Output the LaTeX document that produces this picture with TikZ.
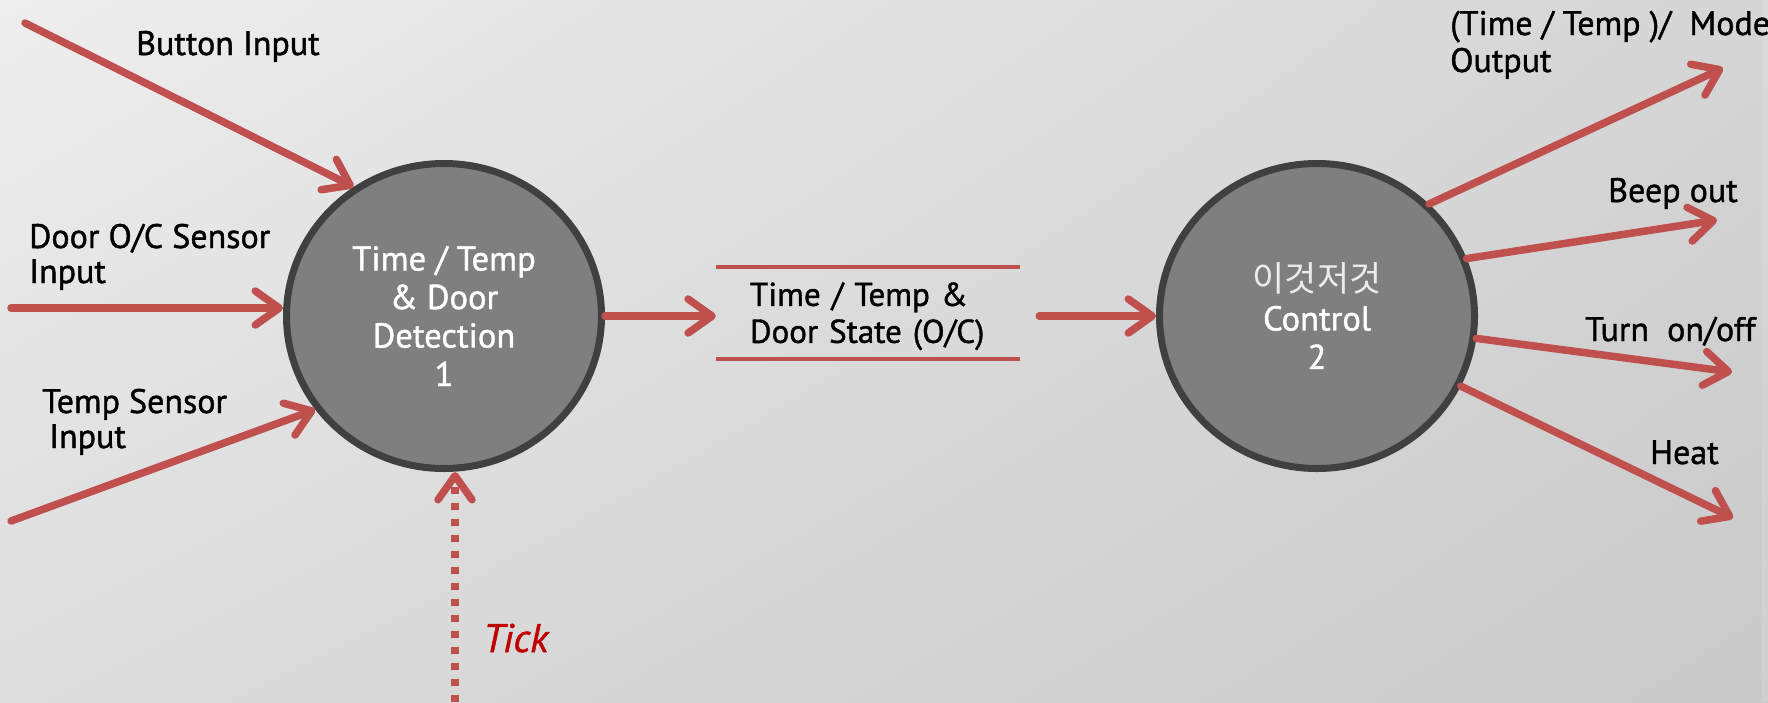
\documentclass[tikz,border=0pt]{standalone}
\usepackage{fontspec}
\setmainfont{PT Sans}[FakeBold=1.2]
\newfontfamily\krfont{Noto Sans CJK KR}
\usetikzlibrary{arrows.meta,shapes.geometric,shadows,shadings}
\definecolor{flowred}{HTML}{C0504D}
\definecolor{procfill}{HTML}{7F7F7F}
\definecolor{procline}{HTML}{404040}
\definecolor{tickred}{HTML}{C00000}
\definecolor{bgUL}{HTML}{EEEEEE}
\definecolor{bgUR}{HTML}{D5D5D5}
\definecolor{bgLL}{HTML}{DDDDDD}
\definecolor{bgLR}{HTML}{C9C9C9}
\begin{document}
\begin{tikzpicture}[x=1pt,y=-1pt,
  shadowed/.style={preaction={draw=black, opacity=0.18, transform canvas={shift={(2pt,-3pt)}}}},
  flow/.style={draw=flowred, line width=7.5pt, line cap=round, line join=round,
    -{Straight Barb[length=24pt,width=34pt,line cap=round,line join=round]}, shadowed},
  tickflow/.style={draw=flowred, line width=7.5pt, dash pattern=on 7pt off 9pt,
    -{Straight Barb[length=24pt,width=34pt,line cap=round,line join=round]}},
  proc/.style={ellipse, draw=procline, fill=procfill, line width=7pt,
    minimum width=315pt, minimum height=305pt, inner sep=0pt, text=white, align=center,
    font=\fontsize{34.5}{38.5}\selectfont,
    drop shadow={shadow xshift=2pt, shadow yshift=-3pt, opacity=0.25}},
  lbl/.style={anchor=base west, inner sep=0pt, align=left, font=\fontsize{34}{35}\selectfont},
  store/.style={rectangle, minimum width=304pt, minimum height=91pt, inner xsep=34pt,
    text width=236pt, align=left, font=\fontsize{33}{37}\selectfont},
  storeline/.style={draw=flowred, line width=4pt}
]
\useasboundingbox (0,0) rectangle (1768,702);
\shade[upper left=bgUL, upper right=bgUR, lower left=bgLL, lower right=bgLR] (0,0) rectangle (1768,702);
\fill[white, opacity=0.12] (1762,0) rectangle (1768,702);

% processes
\node[proc] (c1) at (444,316) {Time / Temp\\\& Door\\Detection\\1};
\node[proc] (c2) at (1317,316) {{\krfont\fontsize{35}{38.5}\selectfont\color{white!92!black}이것저것}\\Control\\2};

% data store
\node[store] (ds) at (868,313) {\rule{0pt}{30pt}Time / Temp \&\\Door State (O/C)};
\draw[storeline] (ds.north west) -- (ds.north east);
\draw[storeline] (ds.south west) -- (ds.south east);

% free ends
\coordinate (btn) at (25,23);
\coordinate (door) at (11,308);
\coordinate (temp) at (11,521);
\coordinate (tickstart) at (455,702);
\coordinate (modeend) at (1723,68);
\coordinate (beepend) at (1717,220);
\coordinate (turnend) at (1732,372);
\coordinate (heatend) at (1733,518);

% inputs
\draw[flow] (btn) -- (c1.125);
\draw[flow] (door) -- (door -| c1.west);
\draw[flow] (temp) -- (c1.216);
\draw[tickflow] (tickstart) -- (tickstart |- c1.south);

% between
\draw[flow] (c1.east) -- (c1.east -| ds.west);
\draw[flow, shorten <=19pt] (c2.west -| ds.east) -- (c2.west);

% outputs
\draw[flow] (c2.45) -- (modeend);
\draw[flow] (c2.21) -- (beepend);
\draw[flow] (c2.-8) -- (turnend);
\draw[flow] (c2.-26) -- (heatend);

% labels (base = baseline of the last line)
\node[lbl] (lbtn) at (136,55) {Button Input};
\node[lbl] (ldoor) at (29,283) {Door O/C Sensor\\Input};
\node[lbl] (ltemp) at (42,448) {Temp Sensor\\\hspace*{7pt}Input};
\node[lbl] (lmode) at (1450,72) {(Time / Temp )/\ \ Mode\\[2pt]Output};
\node[lbl] (lbeep) at (1608,202) {Beep out};
\node[lbl] (lturn) at (1585,341) {Turn\ \ on/off};
\node[lbl] (lheat) at (1650,464) {Heat};
\node[lbl, font=\fontsize{40}{44}\selectfont\itshape, text=tickred] (ltick) at (483,652) {Tick};
\end{tikzpicture}
\end{document}
